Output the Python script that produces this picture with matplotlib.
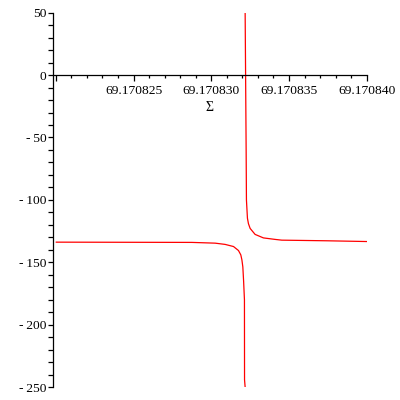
import matplotlib
matplotlib.use('Agg')
import matplotlib.pyplot as plt
from matplotlib.ticker import MultipleLocator, FixedLocator

plt.rcParams['font.family'] = ['Liberation Serif', 'DejaVu Serif']

# curve, x as offset from 69.17082 in units of 1e-6
x0 = 69.17082
left_u = [0.03, 8.75, 10.25, 10.89, 11.43, 11.75, 11.90, 11.97, 12.03, 12.08, 12.134, 12.14, 12.179]
left_y = [-133.8, -134.0, -134.6, -135.6, -137.3, -140.5, -144.0, -148.0, -153.6, -165.0, -180.0, -244.0, -250.0]
right_u = [12.179, 12.243, 12.262, 12.326, 12.391, 12.50, 12.82, 13.355, 14.107, 14.537, 17.43, 20.0]
right_y = [50.0, -60.0, -100.0, -114.6, -119.0, -122.8, -127.6, -130.4, -131.6, -132.2, -132.7, -133.3]

major_x = [69.17082, 69.170825, 69.17083, 69.170835, 69.17084]
major_x_labels = ['', '69.170825', '69.170830', '69.170835', '69.170840']
y_ticks = [50, 0, -50, -100, -150, -200, -250]

fig = plt.figure(figsize=(4, 4), dpi=100)
ax = fig.add_axes([0.1318, 0.0318, 0.785, 0.9367])

ax.plot([x0 + u * 1e-6 for u in left_u], left_y, color='red', lw=0.9)
ax.plot([x0 + u * 1e-6 for u in right_u], right_y, color='red', lw=0.9)

ax.set_xlim(69.1708198, 69.17084)
ax.set_ylim(-250, 50)

ax.spines['top'].set_visible(False)
ax.spines['right'].set_visible(False)
ax.spines['bottom'].set_position(('data', 0))
for s in ('left', 'bottom'):
    ax.spines[s].set_linewidth(0.9)

ax.xaxis.set_major_locator(FixedLocator(major_x))
ax.set_xticklabels(major_x_labels)
ax.xaxis.set_minor_locator(FixedLocator([x0 + k * 1e-6 for k in range(21)]))
ax.set_yticks(y_ticks)
ax.set_yticklabels([str(v) if v >= 0 else '-\u2009' + str(-v) for v in y_ticks])
ax.yaxis.set_minor_locator(MultipleLocator(10))

ax.tick_params(axis='x', which='major', direction='out', length=4, width=0.9, pad=3.5, labelsize=9.7)
ax.tick_params(axis='x', which='minor', direction='out', length=2.4, width=0.9)
ax.tick_params(axis='y', which='both', direction='out', length=3.3, width=0.9, pad=1, labelsize=9.7)

ax.set_xlabel('\u03a3', fontsize=10, labelpad=2.5)

fig.savefig('out.png', dpi=100)
